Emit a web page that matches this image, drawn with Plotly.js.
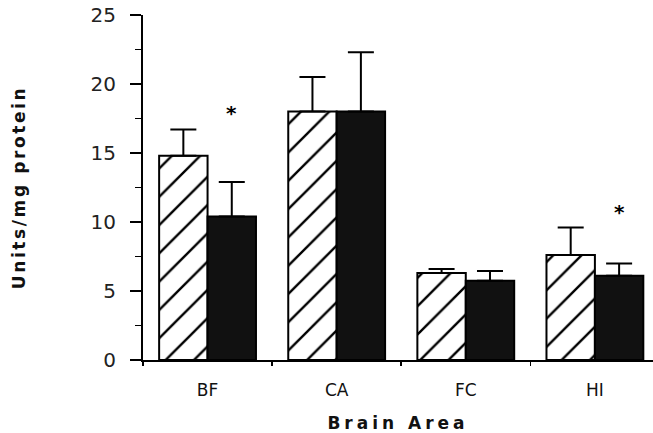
<!DOCTYPE html>
<html>
<head>
<meta charset="utf-8">
<script src="https://cdn.plot.ly/plotly-3.0.1.min.js"></script>
<style>
  html, body { margin: 0; padding: 0; background: #fff; }
  #chart { width: 653px; height: 433px; }
  .xtitle { letter-spacing: 4px; }
  .ytitle { letter-spacing: 2.6px; }
</style>
</head>
<body>
<div id="chart"></div>
<script>
const categories = ['BF', 'CA', 'FC', 'HI'];
const controlValues = [14.8, 18.0, 6.3, 7.6];
const controlErrors = [1.9, 2.5, 0.3, 2.0];
const treatedValues = [10.4, 18.0, 5.75, 6.1];
const treatedErrors = [2.5, 4.3, 0.7, 0.9];
const significant = ['BF', 'HI'];
const asteriskY = [17.9, 10.7];
const yTicks = [0, 5, 10, 15, 20, 25];

const zeros = categories.map(() => 0);

const traces = [
  {
    type: 'bar',
    x: categories,
    y: controlValues,
    name: 'Control',
    marker: {
      color: '#ffffff',
      line: { color: '#000', width: 2 },
      pattern: { shape: '/', fgcolor: '#000', bgcolor: '#fff', size: 20, solidity: 0.12 }
    },
    error_y: {
      type: 'data', symmetric: false, array: controlErrors, arrayminus: zeros,
      color: '#000', thickness: 2, width: 13
    }
  },
  {
    type: 'bar',
    x: categories,
    y: treatedValues,
    name: 'Treated',
    marker: { color: '#111', line: { color: '#000', width: 2 } },
    error_y: {
      type: 'data', symmetric: false, array: treatedErrors, arrayminus: zeros,
      color: '#000', thickness: 2, width: 13
    }
  }
];

const annotations = significant.map((c, i) => ({
  x: categories.indexOf(c) + 0.1875,
  y: asteriskY[i],
  xref: 'x', yref: 'y',
  text: '*',
  showarrow: false,
  font: { family: 'DejaVu Sans', size: 20, weight: 'bold', color: '#000' }
}));

const layout = {
  width: 653,
  height: 433,
  margin: { l: 143, r: 0, t: 15, b: 73 },
  paper_bgcolor: '#fff',
  plot_bgcolor: '#fff',
  showlegend: false,
  barmode: 'group',
  bargap: 0.25,
  bargroupgap: 0,
  xaxis: {
    type: 'category',
    range: [-0.5, 3.45],
    showline: true, linecolor: '#000', linewidth: 2,
    showgrid: false, zeroline: false,
    ticks: 'outside', tickson: 'boundaries', ticklen: 4, tickwidth: 1.5, tickcolor: '#000',
    ticklabelstandoff: 14,
    tickfont: { family: 'DejaVu Sans', size: 17, color: '#111' },
    title: {
      text: 'Brain Area',
      standoff: 19,
      font: { family: 'DejaVu Sans', size: 17, weight: 'bold', color: '#111' }
    },
    fixedrange: true
  },
  yaxis: {
    range: [0, 25],
    tickvals: yTicks,
    ticktext: yTicks.map(String),
    showline: true, linecolor: '#000', linewidth: 2,
    showgrid: false, zeroline: false,
    ticks: 'outside', ticklen: 11, tickwidth: 2, tickcolor: '#000',
    minor: { dtick: 2.5, ticks: 'outside', ticklen: 6, tickwidth: 1.5, tickcolor: '#000', showgrid: false },
    ticklabelstandoff: 10,
    tickfont: { family: 'DejaVu Sans', size: 20, color: '#222' },
    title: {
      text: 'Units/mg protein',
      standoff: 61,
      font: { family: 'DejaVu Sans', size: 17, weight: 'bold', color: '#111' }
    },
    fixedrange: true
  },
  annotations: annotations
};

Plotly.newPlot('chart', traces, layout, { displayModeBar: false, staticPlot: true });
</script>
</body>
</html>
